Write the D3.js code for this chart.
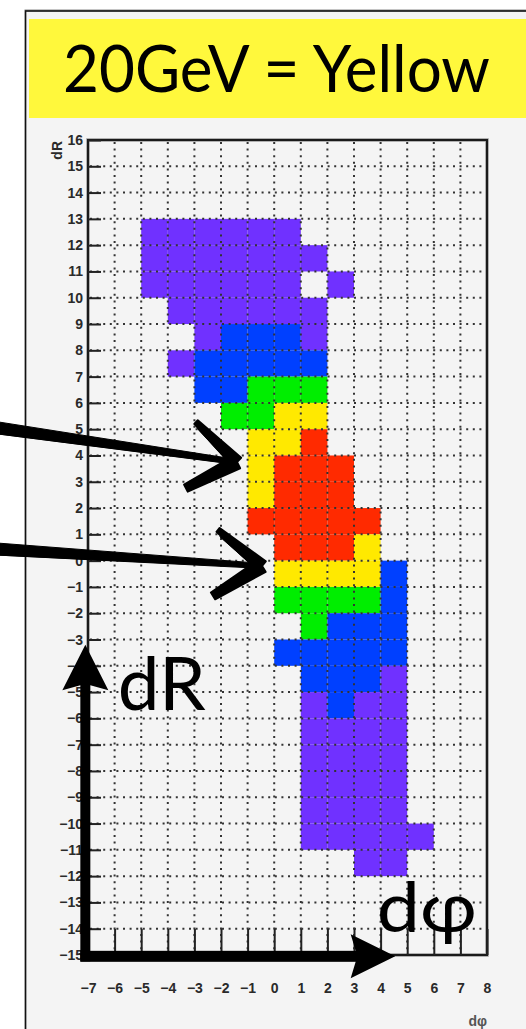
<!DOCTYPE html>
<html lang="en">
<head>
<meta charset="UTF-8">
<title>20GeV = Yellow</title>
<script src="https://d3js.org/d3.v7.min.js"></script>
<style>
    body { margin: 0; background: #fff; }
    .tick text { font-family: "Liberation Sans", Arial, sans-serif; font-weight: bold; font-size: 14px; fill: #2a2a2a; }
    .tick line { stroke: #222; stroke-width: 2; }
    .domain { display: none; }
    .grid line { stroke: #333; stroke-width: 2; stroke-dasharray: 2 4.6; }
</style>
</head>
<body>
<script>
    const width = 526;
    const height = 1029;

    // bin edges and tick values
    const xTicks = d3.range(-7, 9);      // -7 .. 8
    const yTicks = d3.range(-15, 17);    // -15 .. 16
    const xBins = d3.range(-7, 8);       // lower edge of each column
    const rowY = d3.range(12, -13, -1);  // lower edge of each filled row, 12 .. -12

    // colour level of each bin, one row per rowY, one column per xBins (0 = empty)
    const levels = [
        [0,0,1,1,1,1,1,1,0,0,0,0,0,0,0],   // 12
        [0,0,1,1,1,1,1,1,1,0,0,0,0,0,0],   // 11
        [0,0,1,1,1,1,1,1,0,1,0,0,0,0,0],   // 10
        [0,0,0,1,1,1,1,1,1,0,0,0,0,0,0],   // 9
        [0,0,0,0,1,2,2,2,1,0,0,0,0,0,0],   // 8
        [0,0,0,1,2,2,2,2,2,0,0,0,0,0,0],   // 7
        [0,0,0,0,2,2,3,3,3,0,0,0,0,0,0],   // 6
        [0,0,0,0,0,3,3,4,4,0,0,0,0,0,0],   // 5
        [0,0,0,0,0,0,4,4,5,0,0,0,0,0,0],   // 4
        [0,0,0,0,0,0,4,5,5,5,0,0,0,0,0],   // 3
        [0,0,0,0,0,0,4,5,5,5,0,0,0,0,0],   // 2
        [0,0,0,0,0,0,5,5,5,5,5,0,0,0,0],   // 1
        [0,0,0,0,0,0,0,5,5,5,4,0,0,0,0],   // 0
        [0,0,0,0,0,0,0,4,4,4,4,2,0,0,0],   // -1
        [0,0,0,0,0,0,0,3,3,3,3,2,0,0,0],   // -2
        [0,0,0,0,0,0,0,0,3,2,2,2,0,0,0],   // -3
        [0,0,0,0,0,0,0,2,2,2,2,2,0,0,0],   // -4
        [0,0,0,0,0,0,0,0,2,2,2,1,0,0,0],   // -5
        [0,0,0,0,0,0,0,0,1,2,1,1,0,0,0],   // -6
        [0,0,0,0,0,0,0,0,1,1,1,1,0,0,0],   // -7
        [0,0,0,0,0,0,0,0,1,1,1,1,0,0,0],   // -8
        [0,0,0,0,0,0,0,0,1,1,1,1,0,0,0],   // -9
        [0,0,0,0,0,0,0,0,1,1,1,1,0,0,0],   // -10
        [0,0,0,0,0,0,0,0,1,1,1,1,1,0,0],   // -11
        [0,0,0,0,0,0,0,0,0,0,1,1,0,0,0]    // -12
    ];

    const levelColors = ["none", "#7031ff", "#0040ff", "#00ee00", "#ffe900", "#ff2a00"];

    const svg = d3.select("body").append("svg")
            .attr("width", width).attr("height", height);

    // pad: white margin, light grey canvas with a dark frame
    svg.append("rect").attr("x", 25).attr("y", 10)
        .attr("width", width - 25).attr("height", height - 10).attr("fill", "#f4f4f4");
    svg.append("path").attr("d", `M25.5,${height} V10.5 H${width}`)
        .attr("fill", "none").attr("stroke", "#8a8a8a").attr("stroke-width", 2);
    svg.append("path").attr("d", `M25.5,${height} V11 H${width}`)
        .attr("fill", "none").attr("stroke", "#111").attr("stroke-width", 1.3);

    // title band
    svg.append("rect").attr("x", 29).attr("y", 19)
        .attr("width", width - 29).attr("height", 99).attr("fill", "#fff83c");
    svg.append("text").attr("x", 63).attr("y", 92)
        .attr("font-family", "Lato, 'Open Sans', sans-serif").attr("font-size", 66)
        .attr("textLength", 427).attr("lengthAdjust", "spacingAndGlyphs")
        .attr("fill", "#000").text("20GeV = Yellow");

    const x = d3.scaleLinear().domain([-7, 8]).range([88, 487]);
    const y = d3.scaleLinear().domain([-15, 16]).range([955, 140]);

    // bins
    const cells = [];
    rowY.forEach((yv, i) => xBins.forEach((xv, j) => {
        if (levels[i][j] > 0) cells.push({x: xv, y: yv, level: levels[i][j]});
    }));
    svg.selectAll("rect.cell").data(cells).enter().append("rect")
        .attr("class", "cell")
        .attr("x", d => x(d.x))
        .attr("y", d => y(d.y + 1))
        .attr("width", d => x(d.x + 1) - x(d.x))
        .attr("height", d => y(d.y) - y(d.y + 1))
        .attr("fill", d => levelColors[d.level]);

    // dotted grid
    const grid = svg.append("g").attr("class", "grid");
    grid.selectAll("line.v").data(xTicks.slice(1, -1)).enter().append("line")
        .attr("x1", d => x(d)).attr("x2", d => x(d))
        .attr("y1", y(16) + 2).attr("y2", y(-15));
    grid.selectAll("line.h").data(yTicks.slice(1, -1)).enter().append("line")
        .attr("x1", x(-7) + 2).attr("x2", x(8))
        .attr("y1", d => y(d)).attr("y2", d => y(d));

    // frame
    svg.append("path").attr("d", `M${x(-7)},${y(16)} H${x(8)} V${y(-15)} H${x(-7)} Z`)
        .attr("fill", "none").attr("stroke", "#9a9a9a").attr("stroke-width", 3.5);
    svg.append("path").attr("d", `M${x(-7)},${y(16)} H${x(8)} V${y(-15)} H${x(-7)} Z`)
        .attr("fill", "none").attr("stroke", "#1a1a1a").attr("stroke-width", 2);

    // axes
    svg.append("g").attr("transform", `translate(${x(-7)},0)`)
        .call(d3.axisLeft(y).tickValues(yTicks).tickFormat(d3.format("d"))
            .tickSizeInner(-13).tickSizeOuter(0).tickPadding(5));
    svg.append("g").attr("transform", `translate(0,${y(-15)})`)
        .call(d3.axisBottom(x).tickValues(xTicks).tickFormat(d3.format("d"))
            .tickSizeInner(-26).tickSizeOuter(0).tickPadding(28));

    // axis titles
    svg.append("text")
        .attr("transform", `translate(62,${y(16) + 1}) rotate(-90)`)
        .attr("text-anchor", "end")
        .attr("font-family", "Liberation Sans, Arial, sans-serif").attr("font-weight", "bold")
        .attr("font-size", 14).attr("fill", "#2a2a2a").text("dR");
    svg.append("text").attr("x", x(8)).attr("y", 1026)
        .attr("text-anchor", "end")
        .attr("font-family", "Liberation Sans, Arial, sans-serif").attr("font-weight", "bold")
        .attr("font-size", 14).attr("fill", "#555").text("dφ");

    // big axis arrows drawn over the chart
    const ax = x(-7.1);
    const ay = y(-15.05);
    const headBaseY = y(-4.85);   // back corners of the vertical head
    const notchY = headBaseY - 3;
    svg.append("rect").attr("x", ax - 5).attr("y", notchY - 1).attr("width", 10).attr("height", ay - notchY + 6)
        .attr("fill", "#000");
    svg.append("path")
        .attr("d", `M${ax},${y(-3.2)} L${ax + 23},${headBaseY + 2} L${ax + 5},${notchY} L${ax - 5},${notchY} L${ax - 23},${headBaseY + 2} Z`)
        .attr("fill", "#000");
    const headBaseX = x(2.95);
    const notchX = headBaseX + 3;
    svg.append("rect").attr("x", ax - 5).attr("y", ay - 5.5).attr("width", notchX - ax + 6).attr("height", 11)
        .attr("fill", "#000");
    svg.append("path")
        .attr("d", `M${x(4.55)},${ay} L${headBaseX - 2},${ay + 22} L${notchX},${ay + 5.5} L${notchX},${ay - 5.5} L${headBaseX - 2},${ay - 22} Z`)
        .attr("fill", "#000");

    svg.append("text").attr("x", x(-5.88)).attr("y", y(-5.68))
        .attr("font-family", "Lato, 'Open Sans', sans-serif").attr("font-size", 74)
        .attr("textLength", 88).attr("lengthAdjust", "spacingAndGlyphs")
        .attr("fill", "#000").text("dR");
    svg.append("text").attr("x", x(3.86)).attr("y", y(-14.13))
        .attr("font-family", "Lato, 'Open Sans', sans-serif").attr("font-size", 70)
        .attr("textLength", 100).attr("lengthAdjust", "spacingAndGlyphs")
        .attr("fill", "#000").text("dφ");

    // hand-drawn pointer arrows (data coordinates)
    const pointers = [
        {tail: [-10.4, 5.05], tip: [-1.4, 3.75], up: [-2.94, 5.27], down: [-3.32, 2.76]},
        {tail: [-10.4, 0.44], tip: [-0.46, -0.2], up: [-2.11, 1.17], down: [-2.3, -1.34]}
    ];
    const sketch = svg.append("g").attr("fill", "#000").attr("stroke", "#000")
        .attr("stroke-linejoin", "round").attr("stroke-linecap", "round");
    function taper(a, b, w0, w1) {
        const dx = b[0] - a[0], dy = b[1] - a[1], len = Math.hypot(dx, dy);
        const nx = -dy / len, ny = dx / len;
        return `M${a[0] + nx * w0},${a[1] + ny * w0} L${b[0] + nx * w1},${b[1] + ny * w1} ` +
               `L${b[0] - nx * w1},${b[1] - ny * w1} L${a[0] - nx * w0},${a[1] - ny * w0} Z`;
    }
    pointers.forEach(p => {
        const t = [x(p.tip[0]), y(p.tip[1])];
        const s = [x(p.tail[0]), y(p.tail[1])];
        const u = [x(p.up[0]), y(p.up[1])];
        const dn = [x(p.down[0]), y(p.down[1])];
        sketch.append("path").attr("d", taper(s, t, 6, 2.5)).attr("stroke-width", 1);
        sketch.append("path").attr("d", taper([s[0], s[1] + 3], [t[0] - 6, t[1]], 3, 1.5)).attr("stroke-width", 0.8).attr("opacity", 0.85);
        sketch.append("path").attr("d", taper(u, t, 2.5, 6)).attr("stroke-width", 2);
        sketch.append("path").attr("d", taper([u[0] + 3, u[1] + 6], [t[0] - 3, t[1]], 1.5, 4)).attr("stroke-width", 1);
        sketch.append("path").attr("d", taper(dn, t, 4, 7)).attr("stroke-width", 2);
        sketch.append("path").attr("d", taper([dn[0] + 6, dn[1] - 4], [t[0] - 4, t[1] + 2], 2, 4)).attr("stroke-width", 1);
    });
</script>
</body>
</html>
